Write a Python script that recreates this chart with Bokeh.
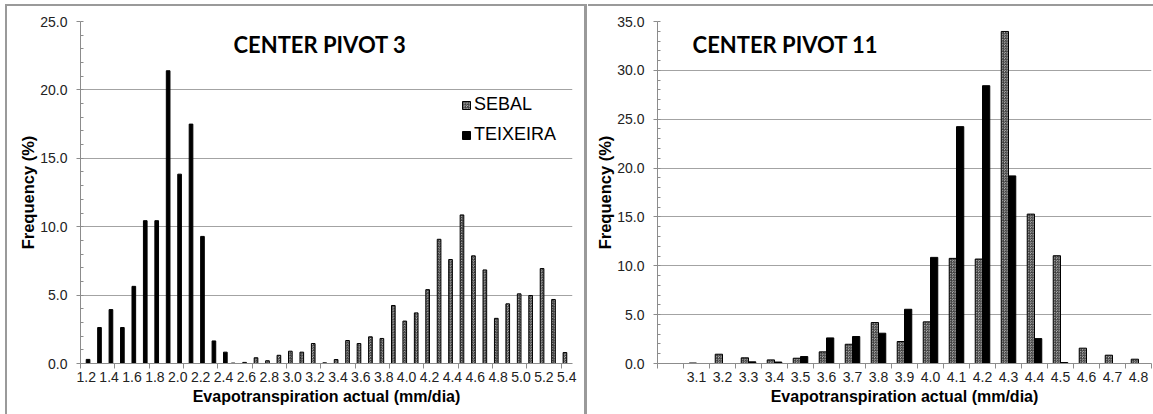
import numpy as np
from bokeh.plotting import figure
from bokeh.models import (Range1d, FixedTicker, Legend, LegendItem, ColumnDataSource,
                          NumeralTickFormatter)
from bokeh.layouts import row
from bokeh.transform import dodge
from bokeh.core.properties import value
from bokeh.embed import file_html
from bokeh.resources import INLINE

# ---------------- data ----------------
cats3 = ["1.2", "1.3", "1.4", "1.5", "1.6", "1.7", "1.8", "1.9", "2.0", "2.1", "2.2",
         "2.3", "2.4", "2.5", "2.6", "2.7", "2.8", "2.9", "3.0", "3.1", "3.2", "3.3",
         "3.4", "3.5", "3.6", "3.7", "3.8", "3.9", "4.0", "4.1", "4.2", "4.3", "4.4",
         "4.5", "4.6", "4.7", "4.8", "4.9", "5.0", "5.1", "5.2", "5.3", "5.4"]
sebal3 = [0, 0, 0, 0, 0, 0, 0, 0, 0, 0, 0,
          0, 0, 0.03, 0.08, 0.42, 0.2, 0.6, 0.9, 0.83, 1.46, 0.05,
          0.29, 1.68, 1.46, 1.95, 1.83, 4.24, 3.1, 3.7, 5.4, 9.08, 7.6,
          10.86, 7.87, 6.84, 3.3, 4.36, 5.09, 4.97, 6.94, 4.68, 0.8]
teix3 = [0.3, 2.63, 3.94, 2.63, 5.64, 10.44, 10.44, 21.4, 13.84, 17.5, 9.29,
         1.65, 0.83, 0, 0, 0, 0, 0, 0, 0, 0, 0,
         0, 0, 0, 0, 0, 0, 0, 0, 0, 0, 0,
         0, 0, 0, 0, 0, 0, 0, 0, 0, 0]

cats11 = ["", "3.1", "3.2", "3.3", "3.4", "3.5", "3.6", "3.7", "3.8", "3.9", "4.0",
          "4.1", "4.2", "4.3", "4.4", "4.5", "4.6", "4.7", "4.8"]
sebal11 = [0, 0.05, 0.95, 0.58, 0.37, 0.54, 1.19, 1.97, 4.19, 2.25, 4.26,
           10.76, 10.69, 33.98, 15.29, 11.03, 1.57, 0.85, 0.44]
teix11 = [0, 0, 0, 0.17, 0.15, 0.71, 2.62, 2.76, 3.1, 5.55, 10.86,
          24.24, 28.43, 19.2, 2.55, 0.1, 0, 0, 0]

series_names = ["SEBAL", "TEIXEIRA"]
titles = ["CENTER PIVOT 3", "CENTER PIVOT 11"]
x_title = "Evapotranspiration actual (mm/dia)"
y_title = "Frequency (%)"

TICK_FONT = "Liberation Sans"
GRID = "#a3a3a3"
AXIS = "#8c8c8c"
BORDER = "#9a9a9a"
H = 414


def nz(a):
    a = np.asarray(a, dtype=float)
    return np.where(a > 0, a, np.nan)


def line_bg(x, y, w, h):
    return f"linear-gradient({BORDER},{BORDER}) {x} {y} / {w} {h} no-repeat"


def make_panel(cats, sebal, teix, ymax, width, bw, label_step, minor_step,
               title, title_x, title_y, min_left, min_right, bg, legend=False):
    n = len(cats)
    idx = np.arange(n)
    src = ColumnDataSource(dict(x=idx, sebal=nz(sebal), teix=nz(teix)))
    p = figure(width=width, height=H, output_backend="svg", toolbar_location=None,
               x_range=Range1d(-0.5, n - 0.5), y_range=Range1d(0, ymax),
               min_border_left=min_left, min_border_right=min_right,
               min_border_top=21, min_border_bottom=H - 363,
               background_fill_color="white", border_fill_alpha=0,
               outline_line_color=None, styles={"background": bg})
    r1 = p.vbar(x=dodge("x", -bw / 2), top="sebal", width=bw, source=src,
                fill_color="#bdbdbd", hatch_pattern="criss_cross", hatch_color="#3a3a3a",
                hatch_scale=2.6, hatch_weight=0.8, line_color="black", line_width=1)
    r2 = p.vbar(x=dodge("x", bw / 2), top="teix", width=bw, source=src,
                fill_color="black", line_color="black", line_width=1)

    # x axis
    xa = p.xaxis[0]
    ticks = list(range(0, n, label_step))
    minor = list(np.arange(-0.5, n, minor_step))
    xa.ticker = FixedTicker(ticks=ticks, minor_ticks=minor)
    xa.major_label_overrides = {int(i): cats[i] for i in ticks}
    xa.major_tick_out = 0
    xa.major_tick_in = 0
    xa.minor_tick_out = 5
    xa.minor_tick_in = 0
    xa.minor_tick_line_color = AXIS
    xa.axis_line_color = AXIS
    xa.major_label_text_font = TICK_FONT
    xa.major_label_text_font_size = "14px"
    xa.major_label_text_color = "#222222"
    xa.major_label_standoff = 3
    xa.axis_label = x_title
    xa.axis_label_text_font = TICK_FONT
    xa.axis_label_text_font_style = "bold"
    xa.axis_label_text_font_size = "16px"
    xa.axis_label_text_color = "black"
    xa.axis_label_standoff = 3

    # y axis
    ya = p.yaxis[0]
    ya.ticker = FixedTicker(ticks=list(range(0, ymax + 1, 5)),
                            minor_ticks=list(range(0, ymax + 1, 1)))
    ya.formatter = NumeralTickFormatter(format="0.0")
    ya.major_tick_out = 4
    ya.major_tick_in = 0
    ya.minor_tick_out = 0
    ya.minor_tick_in = 3
    ya.major_tick_line_color = AXIS
    ya.minor_tick_line_color = AXIS
    ya.axis_line_color = AXIS
    ya.major_label_text_font = TICK_FONT
    ya.major_label_text_font_size = "14px"
    ya.major_label_text_color = "#222222"
    ya.major_label_standoff = 9
    ya.axis_label = y_title
    ya.axis_label_text_font = TICK_FONT
    ya.axis_label_text_font_style = "bold"
    ya.axis_label_text_font_size = "16.5px"
    ya.axis_label_text_color = "black"
    ya.axis_label_standoff = 0

    p.xgrid.grid_line_color = None
    p.ygrid.grid_line_color = GRID
    p.ygrid.ticker = FixedTicker(ticks=list(range(5, ymax + 1, 5)))

    p.text(x=[title_x], y=[title_y], text=[title], text_font=value("Lato"),
           text_font_style="bold", text_font_size="22px", text_align="left",
           text_baseline="middle", text_color="black")

    if legend:
        lg = Legend(items=[LegendItem(label=series_names[0], renderers=[r1]),
                           LegendItem(label=series_names[1], renderers=[r2])],
                    location=(381, 218), orientation="vertical",
                    padding=0, margin=0, spacing=9, border_line_color=None,
                    background_fill_alpha=0, glyph_width=10, glyph_height=10,
                    label_standoff=3, label_height=20,
                    label_text_font=TICK_FONT, label_text_font_size="18px",
                    label_text_color="black")
        p.add_layout(lg)
    return p


W1, W2 = 588, 565
bg1 = ", ".join([line_bg("5px", "4px", "581px", "2px"),
                 line_bg("5px", "4px", "2px", "420px"),
                 line_bg("584px", "4px", "3px", "420px"),
                 "white"])
bg2 = ", ".join([line_bg("0px", "4px", "100%", "2px"), "white"])

p1 = make_panel(cats3, sebal3, teix3, 25, W1, 0.32, 2, 3,
                titles[0], 12.87, 23.3, 80, W1 - 572, bg1, legend=True)
p2 = make_panel(cats11, sebal11, teix11, 35, W2, 0.28, 1, 1,
                titles[1], 0.85, 32.6, 69, 2, bg2, legend=False)

layout = row(p1, p2)
open("out.html", "w").write(file_html(layout, INLINE))
